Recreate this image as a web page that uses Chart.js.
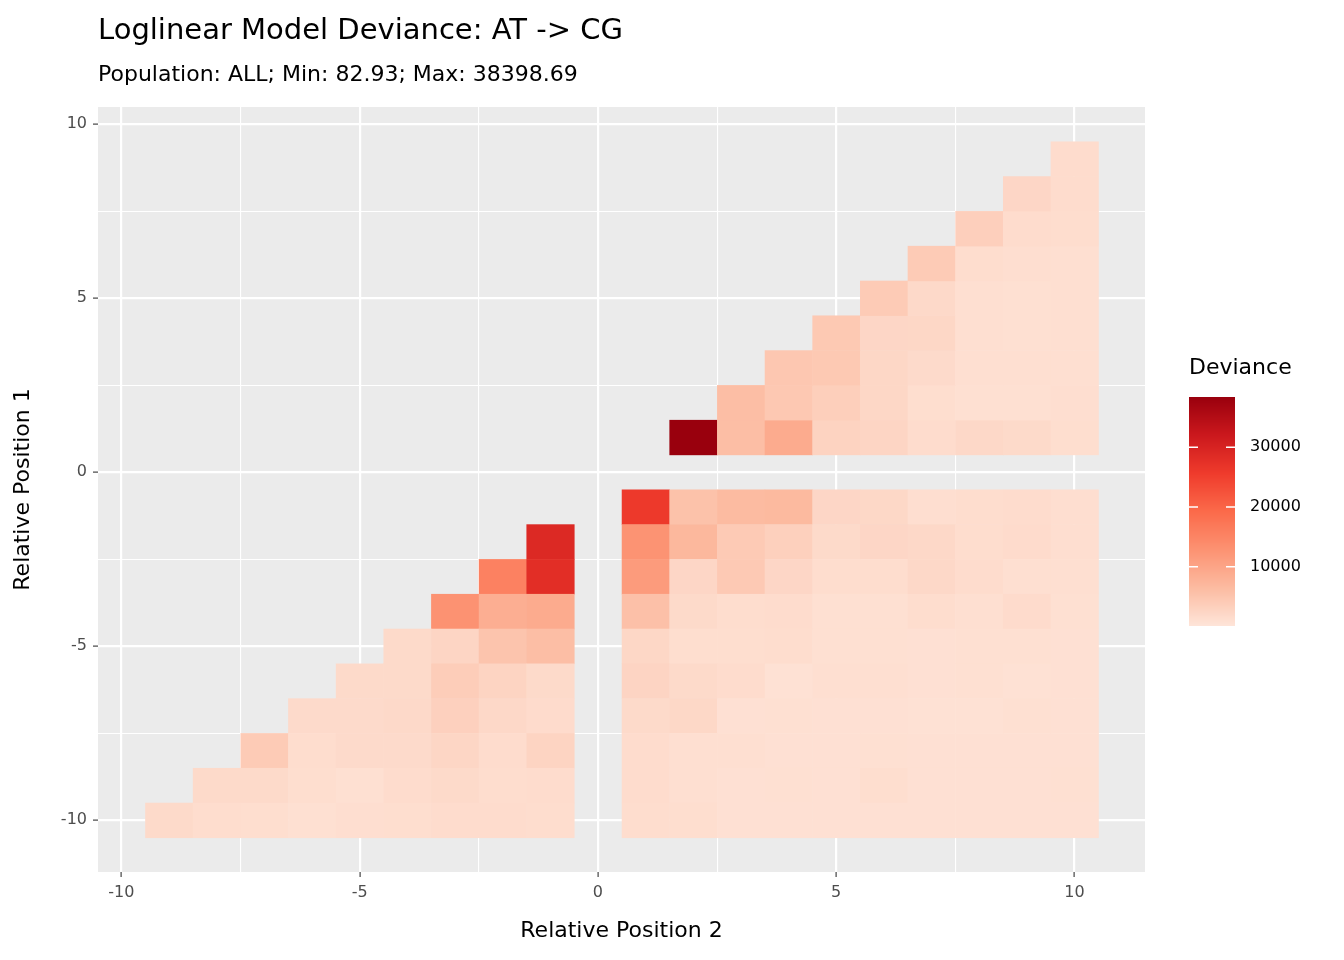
<!DOCTYPE html>
<html>
<head>
<meta charset="utf-8">
<script src="https://cdn.jsdelivr.net/npm/chart.js@4"></script>
<style>
  body { margin: 0; background: #fff; font-family: "DejaVu Sans", sans-serif; }
  #wrap { position: relative; width: 1344px; height: 960px; }
  #title { position: absolute; left: 98px; top: 12px; font-size: 29px; color: #000; }
  #subtitle { position: absolute; left: 98px; top: 61px; font-size: 22px; color: #000; }
</style>
</head>
<body>
<div id="wrap">
  <canvas id="chart" width="1344" height="960"></canvas>
  <div id="title">Loglinear Model Deviance: AT -&gt; CG</div>
  <div id="subtitle">Population: ALL; Min: 82.93; Max: 38398.69</div>
</div>
<script>
const devMin = 82.93;
const devMax = 38398.69;

// lower-left triangle: rows y = -2 .. -10, columns start at x = y + 1 and end at x = -1
const lowerLeftRows = [
    [29000],
    [15500, 28000],
    [12850, 8500, 9000],
    [1800, 2500, 5100, 6000],
    [1800, 1800, 3700, 2700, 1800],
    [1700, 1700, 1900, 3200, 2000, 1600],
    [4100, 1300, 1700, 1700, 2400, 1500, 2700],
    [1800, 1800, 1200, 900, 1500, 1800, 1300, 1500],
    [1800, 1300, 1200, 900, 1100, 1200, 1400, 1500, 1300]
];

// lower-right block: rows y = -1 .. -10, columns x = 1 .. 10
const lowerRightRows = [
    [26000, 5400, 6500, 6700, 2300, 2100, 1100, 1300, 1500, 1100],
    [12700, 7000, 4200, 3300, 1800, 2300, 2000, 1300, 1600, 1100],
    [11500, 2300, 4300, 2300, 1300, 1300, 2000, 1400, 1000, 1000],
    [5700, 1800, 1300, 1400, 900, 900, 1300, 1000, 1600, 900],
    [2200, 1200, 1200, 1300, 900, 900, 800, 900, 900, 800],
    [2600, 1800, 1500, 700, 1000, 1000, 800, 900, 700, 800],
    [1800, 2100, 800, 900, 800, 800, 700, 700, 900, 800],
    [1500, 1000, 1000, 800, 800, 900, 800, 800, 800, 800],
    [1500, 1000, 800, 900, 800, 1200, 800, 800, 800, 900],
    [1300, 1200, 800, 800, 800, 800, 800, 800, 800, 800]
];

// upper triangle: rows y = 1 .. 9, columns start at x = y + 1 and end at x = 10
const upperRows = [
    [38398.69, 6000, 9000, 2800, 2500, 1500, 2000, 1800, 1200],
    [6000, 4500, 3500, 2200, 1200, 900, 900, 1100],
    [4600, 4400, 2200, 1700, 1000, 1000, 1000],
    [4400, 2300, 2200, 1000, 900, 1000],
    [4100, 1900, 1000, 900, 1000],
    [4100, 1300, 1100, 1000],
    [3400, 1500, 1300],
    [2300, 1500],
    [1500]
];

const majorTicks = [-10, -5, 0, 5, 10];
const allTicks = [-10, -7.5, -5, -2.5, 0, 2.5, 5, 7.5, 10];
const legendTicks = [10000, 20000, 30000];

const cells = [];
lowerLeftRows.forEach((row, i) => {
    const y = -2 - i;
    row.forEach((v, j) => cells.push({ x: y + 1 + j, y: y, v: v }));
});
lowerRightRows.forEach((row, i) => {
    row.forEach((v, j) => cells.push({ x: 1 + j, y: -1 - i, v: v }));
});
upperRows.forEach((row, i) => {
    const y = 1 + i;
    row.forEach((v, j) => cells.push({ x: y + 1 + j, y: y, v: v }));
});

const stops = [[254,229,217],[252,187,161],[252,146,114],[251,106,74],[239,59,44],[203,24,29],[153,0,13]];
function colorFor(v) {
    let t = (v - devMin) / (devMax - devMin);
    t = Math.max(0, Math.min(1, t)) * (stops.length - 1);
    const i = Math.min(Math.floor(t), stops.length - 2);
    const f = t - i;
    const c = stops[i].map((a, k) => Math.round(a + (stops[i + 1][k] - a) * f));
    return `rgb(${c[0]},${c[1]},${c[2]})`;
}

const FONT = '"DejaVu Sans", sans-serif';

const heatPlugin = {
    id: 'heat',
    beforeDatasetsDraw(chart) {
        const ctx = chart.ctx;
        const xs = chart.scales.x, ys = chart.scales.y;
        cells.forEach(c => {
            const x0 = xs.getPixelForValue(c.x - 0.5), x1 = xs.getPixelForValue(c.x + 0.5);
            const y0 = ys.getPixelForValue(c.y + 0.5), y1 = ys.getPixelForValue(c.y - 0.5);
            ctx.fillStyle = colorFor(c.v);
            ctx.fillRect(x0, y0, x1 - x0 + 0.5, y1 - y0 + 0.5);
        });
    },
    beforeDraw(chart) {
        const a = chart.chartArea;
        chart.ctx.fillStyle = '#EBEBEB';
        chart.ctx.fillRect(a.left, a.top, a.right - a.left, a.bottom - a.top);
    },
    afterDraw(chart) {
        const ctx = chart.ctx;
        const bx = 1189, bw = 46, top = 397, bottom = 626;
        ctx.fillStyle = '#000';
        ctx.font = '22px ' + FONT;
        ctx.textBaseline = 'middle';
        ctx.fillText('Deviance', bx, 368);
        for (let yy = top; yy < bottom; yy++) {
            const v = devMax - (yy - top + 0.5) / (bottom - top) * (devMax - devMin);
            ctx.fillStyle = colorFor(v);
            ctx.fillRect(bx, yy, bw, 1);
        }
        ctx.font = '16px ' + FONT;
        legendTicks.forEach(v => {
            const yy = bottom - (v - devMin) / (devMax - devMin) * (bottom - top);
            ctx.strokeStyle = '#fff';
            ctx.lineWidth = 1.5;
            ctx.beginPath();
            ctx.moveTo(bx, yy); ctx.lineTo(bx + 9, yy);
            ctx.moveTo(bx + bw - 9, yy); ctx.lineTo(bx + bw, yy);
            ctx.stroke();
            ctx.fillStyle = '#000';
            ctx.fillText(String(v), 1250, yy);
        });
    }
};

function axisCommon(min, max, title) {
    return {
        type: 'linear',
        min: min,
        max: max,
        afterBuildTicks: s => { s.ticks = allTicks.map(v => ({ value: v })); },
        ticks: {
            autoSkip: false,
            maxRotation: 0,
            color: '#4D4D4D',
            font: { size: 16, family: FONT },
            padding: 6,
            callback: v => majorTicks.includes(v) ? String(v) : ''
        },
        grid: {
            color: '#FFFFFF',
            lineWidth: c => majorTicks.includes(c.tick && c.tick.value) ? 2.2 : 1.1,
            tickColor: c => majorTicks.includes(c.tick && c.tick.value) ? '#333333' : 'rgba(0,0,0,0)',
            tickLength: 5,
            tickWidth: 1.1,
            drawOnChartArea: true
        },
        border: { display: false },
        title: {
            display: true,
            text: title,
            color: '#000',
            font: { size: 22, family: FONT },
            padding: { top: 2, bottom: 4 }
        }
    };
}

const xAxis = axisCommon(-10.49, 11.48, 'Relative Position 2');
xAxis.afterFit = s => { s.height = 960 - 872 - 12; };
const yAxis = axisCommon(-11.49, 10.49, 'Relative Position 1');
yAxis.afterFit = s => { s.width = 98 - 8; };

new Chart(document.getElementById('chart'), {
    type: 'scatter',
    data: { datasets: [{ data: cells.map(c => ({ x: c.x, y: c.y })), pointRadius: 0, pointHoverRadius: 0 }] },
    options: {
        responsive: false,
        animation: false,
        events: [],
        layout: { padding: { left: 8, right: 199, top: 107, bottom: 12 } },
        plugins: { legend: { display: false }, tooltip: { enabled: false } },
        scales: { x: xAxis, y: yAxis }
    },
    plugins: [heatPlugin]
});
</script>
</body>
</html>
